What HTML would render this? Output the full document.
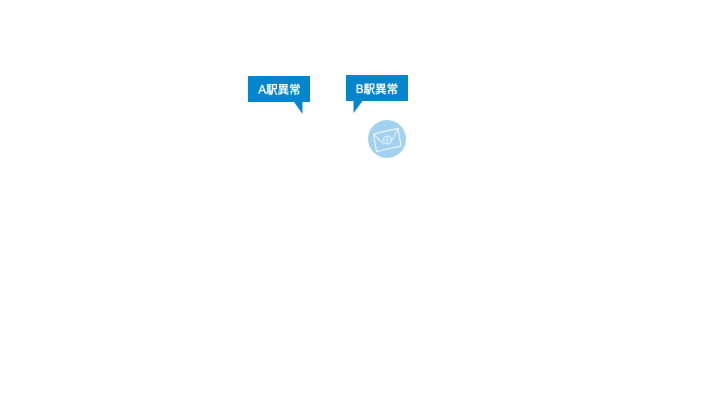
<!DOCTYPE html>
<html>
<head>
<meta charset="utf-8">
<style>
html,body{margin:0;padding:0;background:#fff;width:714px;height:415px;overflow:hidden}
svg{position:absolute;left:0;top:0;display:block}
text{font-family:"Liberation Sans","Noto Sans CJK JP",sans-serif;font-size:11.500px;font-weight:400;fill:#fff;stroke:#fff;stroke-width:.35px}
</style>
</head>
<body>
<svg width="714" height="415" viewBox="0 0 714 415">
  <path d="M248 76H310V102H302.500V114L294 102H248Z" fill="#0585cc"/>
  <text x="279.500" y="93.500" text-anchor="middle">A駅異常</text>
  <path d="M346 75H408V101H362.500L353.500 113V101H346Z" fill="#0585cc"/>
  <text x="377" y="93" text-anchor="middle">B駅異常</text>
  <circle cx="387" cy="139" r="19" fill="#a3d2f0"/>
  <g fill="none" stroke="#fff" stroke-width="1" stroke-linejoin="round" opacity=".9">
    <path d="M373.500 134L398 128.500L401 146L376.500 151.500Z"/>
    <path d="M373.500 134L384 144.500" stroke-width=".8"/>
    <path d="M398 128.500L391 142" stroke-width=".8"/>
    <circle cx="387.500" cy="140" r="4" stroke-width=".8"/>
    <path d="M387.500 136V144M383.500 140H391.500" stroke-width=".6"/>
  </g>
</svg>
</body>
</html>
